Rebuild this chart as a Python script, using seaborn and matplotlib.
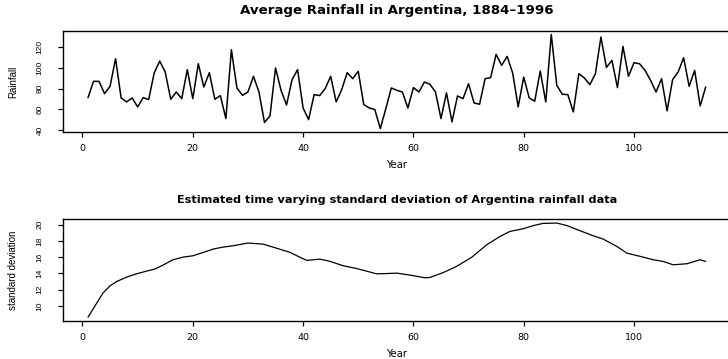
import numpy as np
import pandas as pd
import matplotlib
matplotlib.use("Agg")
import matplotlib.pyplot as plt
import seaborn as sns

# ---- data ----
year_index = list(range(1, 114))
rainfall = [71.4, 87.1, 87.0, 75.2, 82.3, 108.8, 71.1, 67.2, 71.1, 62.4,
            71.4, 69.5, 95.1, 106.6, 96.0, 69.8, 76.8, 70.4, 98.3, 70.4,
            104.0, 81.6, 95.4, 69.8, 73.3, 51.2, 117.5, 80.7, 73.6, 76.8,
            91.9, 76.8, 47.4, 53.8, 99.9, 78.4, 64.3, 88.7, 98.3, 61.4,
            50.2, 74.3, 73.3, 80.0, 91.9, 67.2, 79.1, 95.4, 89.6, 96.7,
            64.7, 61.4, 59.9, 41.6, 60.8, 80.7, 78.4, 76.8, 61.4, 81.0,
            76.8, 86.4, 84.2, 76.8, 51.2, 75.9, 48.0, 73.0, 70.4, 84.8,
            66.2, 65.0, 89.6, 90.6, 113.0, 102.4, 111.1, 95.1, 62.4, 91.2,
            71.1, 67.9, 97.0, 67.2, 132.2, 83.2, 74.6, 74.3, 57.6, 94.4,
            90.3, 83.9, 94.4, 129.7, 100.5, 107.2, 81.0, 120.7, 91.9, 105.0,
            104.0, 97.6, 88.0, 76.8, 89.6, 58.6, 88.7, 96.0, 109.8, 82.3,
            97.6, 63.4, 81.6]

sd_year = [1, 3.7, 5, 6.2, 8, 9.8, 11.6, 13.1, 14.6, 16.4, 18.2, 20, 21.9,
           23.7, 25.5, 27.3, 30, 32.8, 35.2, 37.6, 39.7, 40.7, 43, 44.8, 47.3,
           49.7, 51.5, 53.3, 55.1, 57, 59.4, 62.1, 63, 65.4, 67.8, 70.6, 73.3,
           75.7, 77.5, 79.9, 81.7, 83.5, 86, 87.8, 90.2, 92.6, 94.4, 96.9,
           98.7, 101.1, 103.5, 105.3, 107.1, 109.6, 112, 113]
sd_value = [8.6, 11.57, 12.47, 13.0, 13.54, 13.95, 14.28, 14.53, 15.02, 15.68,
            16.0, 16.17, 16.58, 17.0, 17.24, 17.4, 17.74, 17.6, 17.1, 16.6,
            15.9, 15.6, 15.76, 15.5, 14.94, 14.6, 14.28, 13.95, 13.98, 14.03,
            13.79, 13.46, 13.5, 14.1, 14.85, 16.0, 17.53, 18.55, 19.17, 19.5,
            19.88, 20.16, 20.2, 19.9, 19.26, 18.64, 18.23, 17.32, 16.5, 16.1,
            15.68, 15.47, 15.06, 15.19, 15.68, 15.47]

x_ticks = [0, 20, 40, 60, 80, 100]
rain_ticks = [40, 60, 80, 100, 120]
sd_ticks = [10, 12, 14, 16, 18, 20]

title_top = "Average Rainfall in Argentina, 1884\u20131996"
title_bottom = "Estimated time varying standard deviation of Argentina rainfall data"

# ---- styling ----
sns.set_theme(style="white")
plt.rcParams["font.family"] = ["Liberation Sans", "DejaVu Sans"]
plt.rcParams["text.color"] = "black"
plt.rcParams["axes.labelcolor"] = "black"
wide = ["DejaVu Sans"]

W, H = 728, 359
fig = plt.figure(figsize=(W / 100, H / 100), dpi=100)

def rlim(vals):
    lo, hi = min(vals), max(vals)
    d = 0.04 * (hi - lo)
    return lo - d, hi + d

left_px, right_px = 63.3, 730.4
ax1 = fig.add_axes([left_px / W, (H - 132.3) / H, (right_px - left_px) / W, 101.6 / H])
ax2 = fig.add_axes([left_px / W, (H - 321.0) / H, (right_px - left_px) / W, 101.7 / H])

df_rain = pd.DataFrame({"Year": year_index, "Rainfall": rainfall})
df_sd = pd.DataFrame({"Year": sd_year, "sd": sd_value})

sns.lineplot(data=df_rain, x="Year", y="Rainfall", ax=ax1, color="black", lw=1.1)
sns.lineplot(data=df_sd, x="Year", y="sd", ax=ax2, color="black", lw=0.9)

ax1.set_xlim(rlim(year_index))
ax2.set_xlim(rlim(year_index))
ax1.set_ylim(rlim(rainfall))
ax2.set_ylim(rlim(sd_value))

for ax, yt in ((ax1, rain_ticks), (ax2, sd_ticks)):
    ax.set_xticks(x_ticks)
    ax.set_xticklabels([str(v) for v in x_ticks], family=wide)
    ax.set_yticks(yt)
    ax.set_yticklabels([str(v) for v in yt], rotation=90, va="center")
    for s in ax.spines.values():
        s.set_color("black")
        s.set_linewidth(1.0)
    ax.tick_params(axis="x", direction="out", length=3.6, width=0.9, color="black",
                   pad=4.8, labelsize=6.8, labelcolor="black", bottom=True)
    ax.tick_params(axis="y", direction="out", length=3.6, width=0.9, color="black",
                   pad=10.5, labelsize=6, labelcolor="black", left=True)

ax1.set_xlabel("Year", fontsize=7.2, color="black", family=wide)
ax1.set_ylabel("Rainfall", fontsize=7, color="black")
ax2.set_xlabel("Year", fontsize=7.2, color="black", family=wide)
ax2.set_ylabel("standard deviation", fontsize=7, color="black")
ax1.xaxis.set_label_coords(0.5, -0.27)
ax2.xaxis.set_label_coords(0.5, -0.28)
ax1.yaxis.set_label_coords(-0.0675, 0.5)
ax2.yaxis.set_label_coords(-0.0675, 0.5)

ax1.set_title(title_top, fontsize=9.6, fontweight="bold", pad=12, color="black", family=wide)
ax2.set_title(title_bottom, fontsize=8.1, fontweight="bold", pad=11.5, color="black", family=wide)

fig.savefig("out.png", dpi=100)
